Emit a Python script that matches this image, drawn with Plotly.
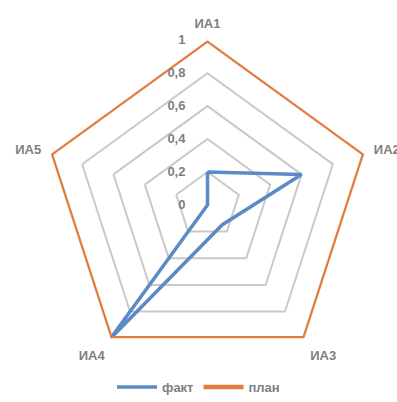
import plotly.graph_objects as go

# Radar data: five indicators, actual vs plan
categories = ["ИА1", "ИА2", "ИА3", "ИА4", "ИА5"]
fact_values = [0.2, 0.6, 0.15, 1.0, 0.0]
plan_values = [1.0, 1.0, 1.0, 1.0, 1.0]
radial_ticks = [0, 0.2, 0.4, 0.6, 0.8, 1]

W, H = 397, 402
cx, cy, R = 207.5, 206.5, 166.0

def closed(seq):
    return list(seq) + [seq[0]]

fig = go.Figure()
fig.add_trace(go.Scatterpolar(
    r=closed(fact_values), theta=closed(categories), name="факт",
    mode="lines", line=dict(color="#5b8ac6", width=3.5),
))
fig.add_trace(go.Scatterpolar(
    r=closed(plan_values), theta=closed(categories), name="план",
    mode="lines", line=dict(color="#e27b3d", width=4.5),
))

label_font = dict(family="Liberation Sans", size=13, color="#7f7f7f", weight="bold")

fig.update_layout(
    width=W, height=H,
    margin=dict(l=0, r=0, t=0, b=0),
    paper_bgcolor="white", plot_bgcolor="white",
    separators=", ",
    polar=dict(
        domain=dict(x=[(cx - R) / W, (cx + R) / W],
                    y=[(H - cy - R) / H, (H - cy + R) / H]),
        bgcolor="white",
        gridshape="linear",
        angularaxis=dict(
            direction="clockwise", rotation=90,
            showline=False, showgrid=False,
            ticks="outside", ticklen=7, tickcolor="rgba(0,0,0,0)",
            tickfont=dict(**label_font),
        ),
        radialaxis=dict(
            range=[0, 1], tickvals=radial_ticks, angle=90, tickangle=90,
            side="counterclockwise",
            showline=False, ticks="outside", ticklen=17,
            tickcolor="rgba(0,0,0,0)",
            gridcolor="#c9c9c9", gridwidth=1.5,
            tickfont=dict(**label_font),
            tickformat=".1~f",
        ),
    ),
    showlegend=True,
    legend=dict(orientation="h", x=0.5, xanchor="center", y=(H - 390) / H,
                yanchor="middle", font=dict(**label_font),
                itemwidth=40, traceorder="normal"),
)

fig.write_html("out.html")
